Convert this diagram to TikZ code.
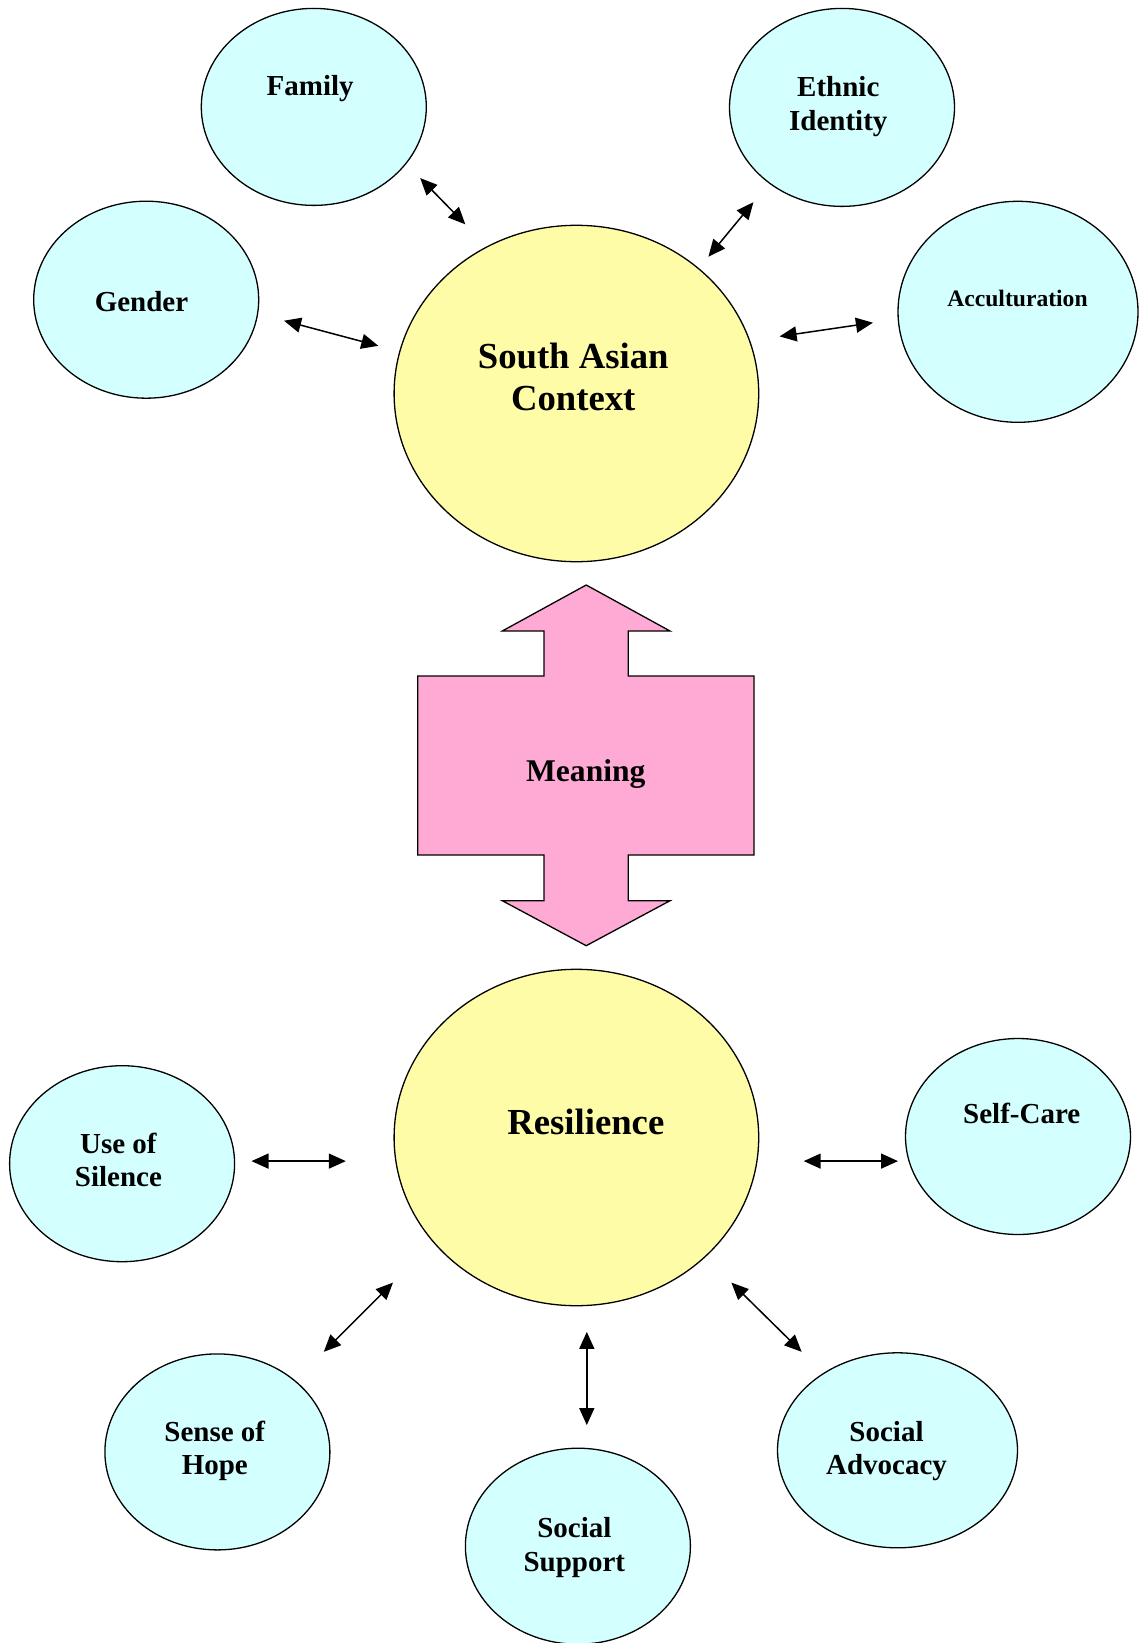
\documentclass[tikz,border=0pt]{standalone}
\usepackage{fontspec}
\setmainfont{Liberation Serif}
\usetikzlibrary{shapes.geometric,arrows.meta}
\definecolor{cyanfill}{HTML}{D4FFFF}
\definecolor{yellowfill}{HTML}{FFFCA8}
\definecolor{pinkfill}{HTML}{FFAAD4}
\tikzset{
  cyanell/.style={ellipse, draw=black, line width=1.3pt, fill=cyanfill, inner sep=0pt},
  yellell/.style={ellipse, draw=black, line width=1.3pt, fill=yellowfill, inner sep=0pt, minimum width=364.6pt, minimum height=336.4pt},
  smalllbl/.style={anchor=base, align=center, inner sep=0pt, font=\bfseries\fontsize{29}{33.5}\selectfont},
  biglbl/.style={anchor=base, align=center, inner sep=0pt, font=\bfseries\fontsize{36.7}{42}\selectfont},
  link/.style={line width=1.5pt, {Triangle[length=17pt,width=15pt]}-{Triangle[length=17pt,width=15pt]}}
}
\begin{document}
\begin{tikzpicture}[x=1pt,y=-1pt]
\useasboundingbox (0,0) rectangle (1138,1643);

% outer ellipses (top)
\node[cyanell, minimum width=225pt, minimum height=197pt] (family) at (313.8,106.9) {};
\node[cyanell, minimum width=225pt, minimum height=198pt] (ethnic) at (842,107.4) {};
\node[cyanell, minimum width=225pt, minimum height=197pt] (gender) at (146.2,299.7) {};
\node[cyanell, minimum width=240pt, minimum height=221pt] (accult) at (1018,311.8) {};

% central ellipses
\node[yellell] (sac) at (576.4,393.5) {};
\node[yellell] (resil) at (576.4,1137.5) {};

% outer ellipses (bottom)
\node[cyanell, minimum width=225pt, minimum height=196pt] (silence) at (122.1,1163.7) {};
\node[cyanell, minimum width=225pt, minimum height=196pt] (selfcare) at (1018,1136.5) {};
\node[cyanell, minimum width=225pt, minimum height=196pt] (hope) at (217.4,1451.9) {};
\node[cyanell, minimum width=225pt, minimum height=196pt] (support) at (577.9,1546.2) {};
\node[cyanell, minimum width=240pt, minimum height=195pt] (advocacy) at (897.5,1450.3) {};

% Meaning double arrow
\draw[line width=1.3pt, fill=pinkfill, line join=miter]
  (586.2,585) -- (670,631) -- (628.3,631) -- (628.3,676) -- (754,676) -- (754,855)
  -- (628.3,855) -- (628.3,900.7) -- (670,900.7) -- (586.2,945.7) -- (502.3,900.7)
  -- (544,900.7) -- (544,855) -- (417.7,855) -- (417.7,676) -- (544,676) -- (544,631)
  -- (502.3,631) -- cycle;

% labels (multi-line nodes: base = baseline of last line)
\node[smalllbl] (tfamily) at (310.2,95.4) {Family};
\node[smalllbl] (tethnic) at (838.3,130.4) {Ethnic\\Identity};
\node[smalllbl] (tgender) at (141.5,311) {Gender};
\node[anchor=base, inner sep=0pt, font=\bfseries\fontsize{23.6}{28}\selectfont] (taccult) at (1017.5,306) {Acculturation};
\node[biglbl] (tsac) at (573.2,410.3) {South Asian\\Context};
\node[anchor=base, inner sep=0pt, font=\bfseries\fontsize{31.6}{36}\selectfont] (tmeaning) at (585.8,781.5) {Meaning};
\node[biglbl] (tresil) at (585.8,1134.8) {Resilience};
\node[smalllbl] (tsilence) at (118.4,1186.7) {Use of\\Silence};
\node[smalllbl] (tselfcare) at (1021.7,1123.4) {Self-Care};
\node[smalllbl] (thope) at (214.8,1474.9) {Sense of\\Hope};
\node[smalllbl] (tsupport) at (574.3,1571.3) {Social\\Support};
\node[smalllbl] (tadvocacy) at (886.5,1474.9) {Social\\Advocacy};

% connector end points
\coordinate (fa1) at (420.2,178.1);  \coordinate (fa2) at (465.3,224.3);
\coordinate (et1) at (753.4,202.2);  \coordinate (et2) at (708.4,256.7);
\coordinate (ge1) at (284,320.7);    \coordinate (ge2) at (378.3,345.8);
\coordinate (ac1) at (872.9,322.7);  \coordinate (ac2) at (779.6,336.4);
\coordinate (si1) at (251.5,1161.1); \coordinate (si2) at (345.8,1161.1);
\coordinate (sc1) at (898,1161.1);   \coordinate (sc2) at (803.7,1161.1);
\coordinate (ho1) at (323.8,1351.8); \coordinate (ho2) at (393,1282.6);
\coordinate (su1) at (586.8,1425.1); \coordinate (su2) at (586.8,1331.9);
\coordinate (ad1) at (801.6,1351.8); \coordinate (ad2) at (731.4,1282.6);

\draw[link] (fa1) -- (fa2);
\draw[link] (et1) -- (et2);
\draw[link] (ge1) -- (ge2);
\draw[link] (ac1) -- (ac2);
\draw[link] (si1) -- (si2);
\draw[link] (sc1) -- (sc2);
\draw[link] (ho1) -- (ho2);
\draw[link] (su1) -- (su2);
\draw[link] (ad1) -- (ad2);
\end{tikzpicture}
\end{document}
